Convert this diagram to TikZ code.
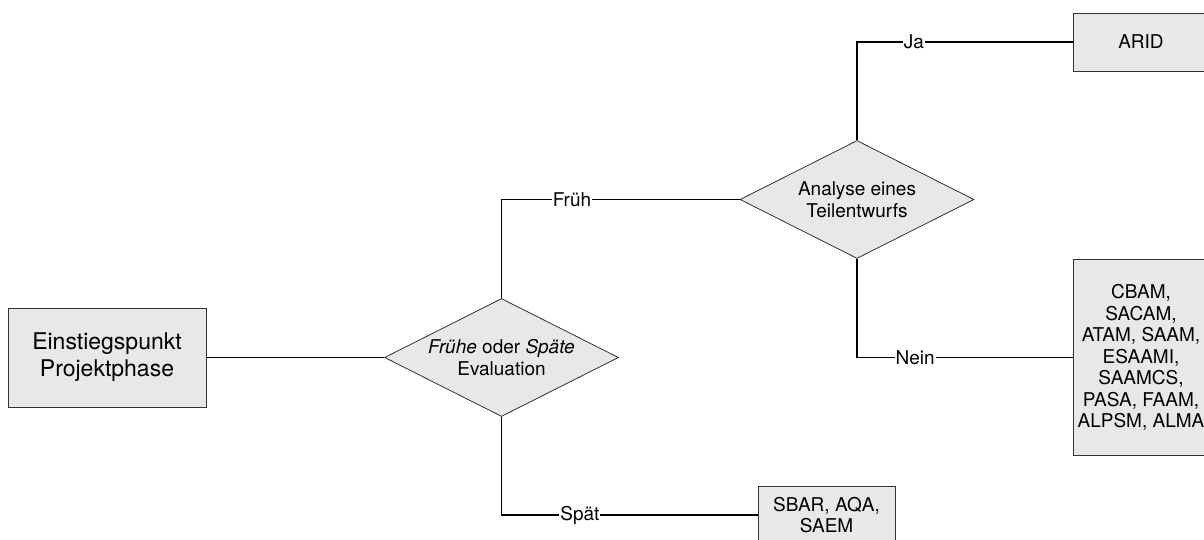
\documentclass[tikz,border=0pt]{standalone}
\usepackage{fontspec}
\setmainfont{TeX Gyre Heros}
\usetikzlibrary{shapes.geometric,positioning}
\tikzset{
    %Define style for boxes
    kasten/.style={
           rectangle,
           fill=black!9,
           draw=black!80, line width=0.8pt,
           align=center,
           inner sep=0pt,
           font=\fontsize{19}{21.5}\selectfont},
    %Define style for decisions
    raute/.style={
           diamond, aspect=2,
           fill=black!9,
           draw=black!80, line width=0.8pt,
           minimum width=234pt,
           minimum height=118pt,
           inner sep=0pt,
           align=center,
           font=\fontsize{19}{21.5}\selectfont},
    % Define connector style
    winkel/.style={to path={|- (\tikztotarget) \tikztonodes}},
    lbl/.style={fill=white, inner sep=1pt, font=\fontsize{19}{21.5}\selectfont}
}

\begin{document}
\begin{tikzpicture}[x=1pt,y=-1pt,line width=1.1pt]
\useasboundingbox (0,0) rectangle (1204,540);
\clip (0,0) rectangle (1204,540);

\node[kasten, minimum width=198pt, minimum height=99pt,
  font=\fontsize{23}{27}\selectfont](einstieg) at (107,357.5){Einstiegspunkt\\Projektphase};
\node[raute](zeit) at (501.5,357.5){\textit{Frühe} oder \textit{Späte}\\Evaluation};
\node[raute](teil) at (857,199.5){Analyse eines\\Teilentwurfs};
\node[kasten, minimum width=136pt, minimum height=58pt](arid) at (1141,42){ARID};
\node[kasten, minimum width=136pt, minimum height=196pt](voll) at (1141,357.5)
  {CBAM,\\SACAM,\\ATAM, SAAM,\\ESAAMI,\\SAAMCS,\\PASA, FAAM,\\ALPSM, ALMA};
\node[kasten, minimum width=137pt, minimum height=58pt](spaet) at (826.5,515){SBAR, AQA,\\SAEM};

 \path[draw, every node/.style={lbl}]
 	(einstieg) edge (zeit)
 	(zeit.north) edge[winkel] node[pos=0.648] {Früh} (teil.west)
 	(zeit.south) edge[winkel] node[pos=0.653] {Spät} (spaet.west)
 	(teil.north) edge[winkel] node[pos=0.632] {Ja} (arid.west)
 	(teil.south) edge[winkel] node[pos=0.635] {Nein} (voll.west);

\end{tikzpicture}
\end{document}
